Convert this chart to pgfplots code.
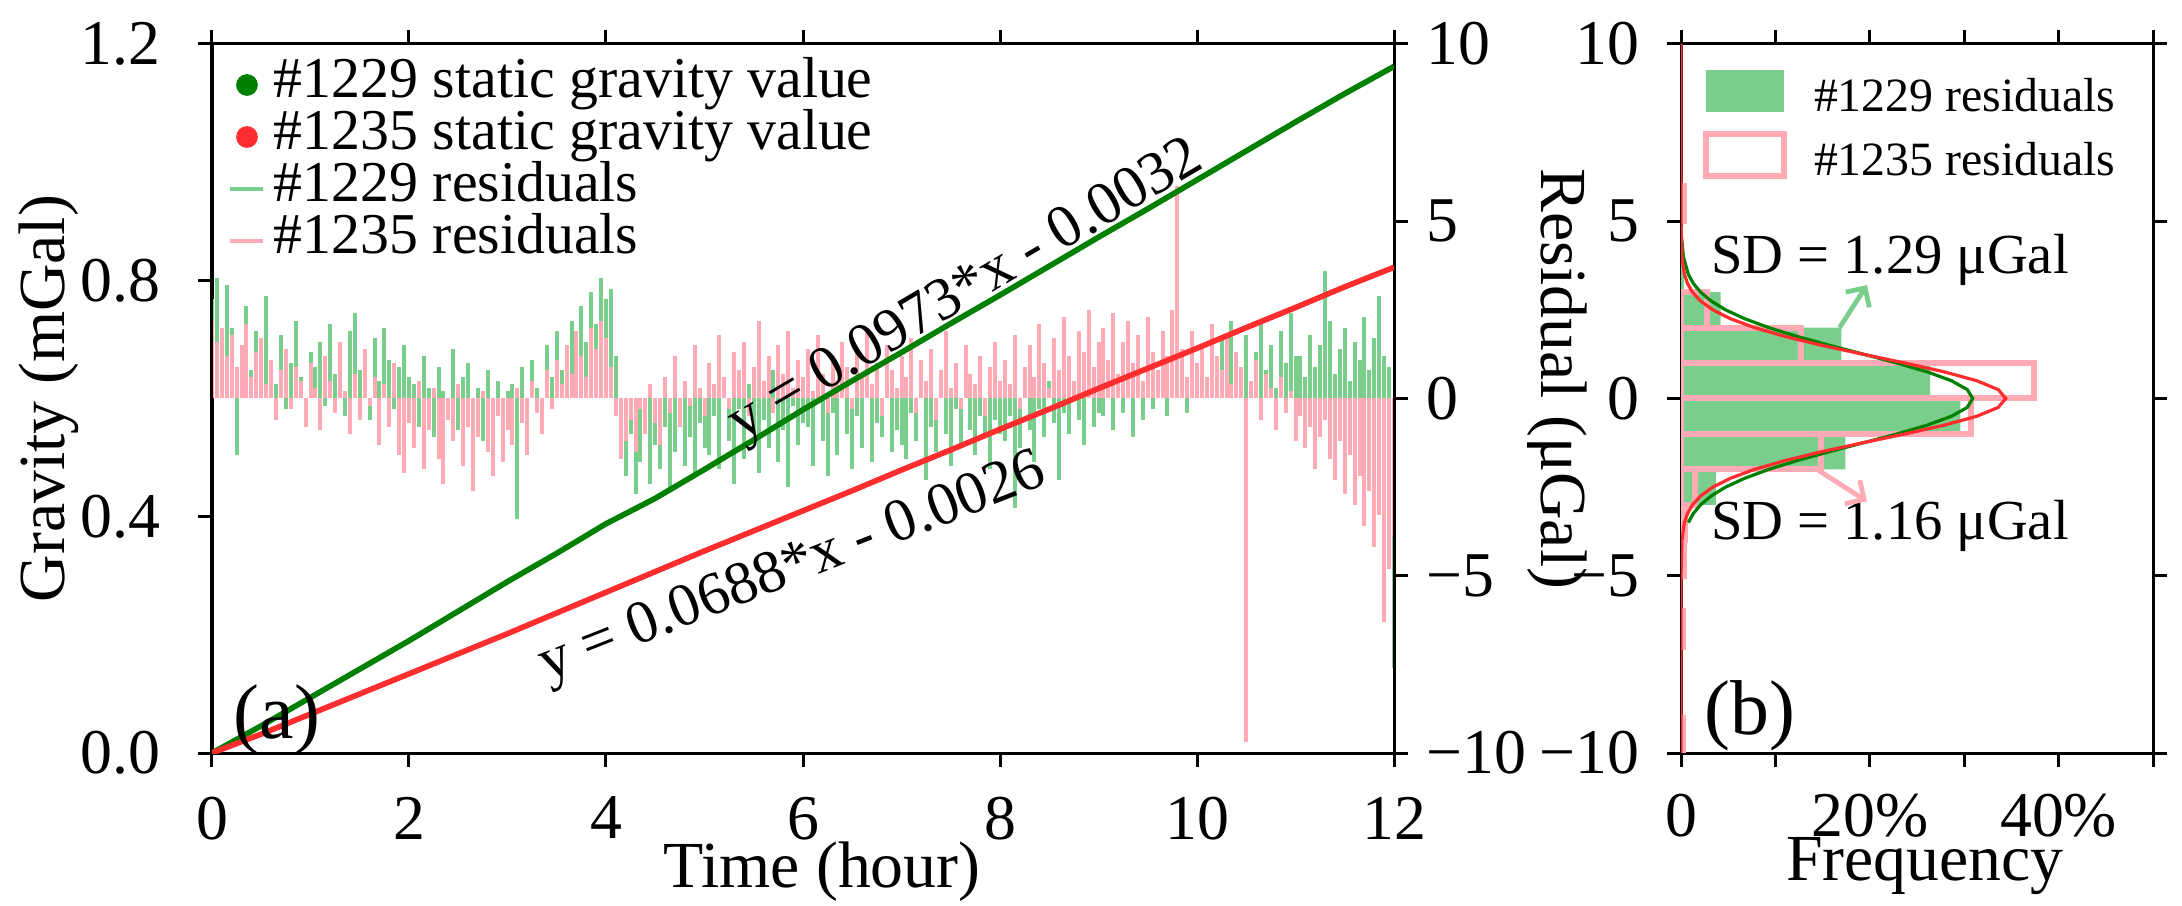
\documentclass[border=0pt]{standalone}
\usepackage{fontspec}
\setmainfont{Liberation Serif}
\usepackage{pgfplots}
\pgfplotsset{compat=1.18}
\usetikzlibrary{arrows.meta}
\definecolor{gline}{RGB}{0,128,0}
\definecolor{rline}{RGB}{255,45,45}
\definecolor{gres}{RGB}{122,206,140}
\definecolor{pres}{RGB}{255,170,180}
\pgfplotsset{
  common/.style={
    scale only axis,
    axis line style={line width=0.75bp},
    tick style={black, line width=0.75bp},
    major tick length=3.5bp,
    tick align=outside,
    tick label style={font=\fontsize{16}{19}\selectfont, inner sep=0pt},
    label style={font=\fontsize{16.5}{19}\selectfont},
  }
}
\begin{document}
\begin{tikzpicture}
\useasboundingbox (-53bp,-38.25bp) rectangle (492.5bp,188.25bp);
% ---------- residual axis (right) ----------
\begin{axis}[common, at={(0bp,0bp)}, anchor=south west,
  width=295.5bp, height=177.25bp,
  xmin=0, xmax=12, ymin=-10, ymax=10,
  xtick=\empty,
  ytick={-10,-5,0,5,10}, yticklabels={−10,−5,0,5,10},
  ytick pos=right, yticklabel pos=right,
  yticklabel style={xshift=4.5bp}]
\addplot[ycomb, gres, line width=1bp, no markers] table[row sep=\\, x expr=\coordindex*0.05, y index=0]{
2.8\\ 3.4\\ 1.5\\ 3.2\\ 2.0\\ -1.6\\ 1.2\\ 2.6\\ 0.8\\ 1.9\\ 0.5\\ 2.9\\ 1.1\\ 0.4\\ 1.8\\ -0.3\\ 1.0\\ 2.2\\ 0.6\\ -0.4\\ 1.3\\
0.9\\ 1.6\\ -0.2\\ 2.1\\ 0.7\\ 1.4\\ -0.5\\ 1.9\\ 2.4\\ 0.8\\ 1.2\\ -0.6\\ 1.7\\ 0.5\\ 2.0\\ 1.1\\ -0.3\\ 0.9\\ 1.5\\ 0.6\\
0.4\\ -0.8\\ 1.2\\ 0.3\\ -1.1\\ 0.9\\ 0.2\\ -0.5\\ 1.4\\ -0.9\\ 0.6\\ 1.0\\ -0.4\\ 0.3\\ -1.2\\ 0.8\\ -0.2\\ 0.5\\ -0.7\\ 0.2\\
0.4\\ -3.4\\ 0.9\\ -0.6\\ 1.1\\ 0.3\\ -0.8\\ 1.5\\ 0.6\\ 1.9\\ 0.8\\ 1.3\\ 2.2\\ 1.0\\ 2.6\\ 1.6\\ 3.0\\ 2.1\\ 3.4\\ 2.8\\
3.1\\ 1.2\\ -1.5\\ -2.2\\ -1.0\\ -2.7\\ -1.8\\ -0.6\\ -2.4\\ -1.3\\ -2.0\\ -0.8\\ -2.6\\ -1.5\\ -0.4\\ -1.9\\ -1.1\\ -2.2\\ -0.7\\ -1.4\\
-1.6\\ -0.5\\ -2.0\\ 0.6\\ -1.2\\ -2.4\\ -0.3\\ -1.7\\ 0.4\\ -1.0\\ -2.1\\ -0.6\\ -1.4\\ 0.8\\ -1.8\\ -0.9\\ -2.5\\ -0.2\\ -1.3\\ -0.7\\
-0.8\\ -1.9\\ 0.5\\ -1.2\\ -2.2\\ -0.4\\ -1.6\\ 0.7\\ -1.0\\ -2.0\\ -0.5\\ -1.4\\ 0.3\\ -1.8\\ -0.7\\ -1.1\\ 0.6\\ -1.5\\ -0.9\\ -1.3\\
-1.7\\ -0.4\\ -1.2\\ 0.5\\ -2.3\\ -0.8\\ -1.5\\ 0.4\\ -1.0\\ -1.9\\ -0.3\\ -1.3\\ 0.6\\ -0.9\\ -1.6\\ -0.5\\ -1.1\\ -2.0\\ -0.6\\ -1.0\\
-1.2\\ -0.5\\ -3.1\\ -1.4\\ 0.4\\ -0.9\\ -1.8\\ -0.3\\ -1.1\\ 0.5\\ -0.7\\ -2.3\\ -0.4\\ -1.0\\ 0.3\\ -0.6\\ -1.3\\ 0.2\\ -0.8\\ -0.4\\
-0.5\\ 0.6\\ -0.9\\ 0.3\\ -0.4\\ 0.8\\ -1.1\\ 0.4\\ -0.6\\ 1.0\\ -0.3\\ 0.5\\ 1.6\\ -0.5\\ 0.7\\ 0.2\\ 1.3\\ -0.4\\ 0.9\\ 0.5\\
1.4\\ 0.6\\ 2.0\\ 0.9\\ 1.7\\ 0.4\\ 2.2\\ 1.1\\ 0.7\\ 1.8\\ 0.5\\ 1.3\\ 2.1\\ 0.8\\ 1.5\\ 0.3\\ 1.9\\ 1.0\\ 2.4\\ 1.2\\
1.2\\ 0.6\\ 1.8\\ 0.9\\ 1.5\\ 3.6\\ 2.2\\ 0.7\\ 1.4\\ 2.0\\ 0.5\\ 1.6\\ 1.1\\ 2.3\\ 0.8\\ 1.7\\ 2.9\\ 1.2\\ 0.9\\ -7.6\\
};
\addplot[ycomb, pres, line width=1bp, no markers] table[row sep=\\, x expr=\coordindex*0.05, y index=0]{
2.2\\ 1.6\\ 2.0\\ 1.2\\ 1.8\\ 0.9\\ 1.5\\ 2.1\\ 0.6\\ 1.3\\ 1.7\\ 0.4\\ 1.1\\ -0.6\\ 0.8\\ 1.4\\ -0.3\\ 0.9\\ 0.5\\ -0.8\\ 1.0\\
0.3\\ -0.9\\ 1.2\\ 0.5\\ -0.4\\ 1.6\\ 0.2\\ -1.0\\ 0.7\\ -0.6\\ 1.4\\ -0.2\\ 0.6\\ -1.3\\ 0.4\\ -0.8\\ 1.0\\ -1.6\\ -2.1\\ -0.7\\
-1.4\\ 0.5\\ -2.0\\ -0.9\\ 0.3\\ -1.7\\ -2.4\\ -0.6\\ -1.2\\ 0.4\\ -1.9\\ -0.8\\ -2.6\\ -1.1\\ 0.2\\ -1.5\\ -2.2\\ -0.5\\ -1.8\\ -0.9\\
-1.3\\ 0.3\\ -0.7\\ -1.6\\ 0.5\\ -0.4\\ -1.0\\ 0.8\\ -0.3\\ 1.1\\ 0.4\\ 1.5\\ 0.7\\ 1.9\\ 1.2\\ 0.6\\ 2.0\\ 1.4\\ 2.2\\ 1.7\\
0.9\\ -0.5\\ -1.7\\ -1.2\\ -0.6\\ -1.5\\ -0.3\\ -1.0\\ 0.4\\ -0.7\\ -1.3\\ 0.6\\ -0.4\\ 1.2\\ -0.8\\ 0.5\\ -0.2\\ 1.5\\ 0.3\\ -0.5\\
1.0\\ 0.4\\ 1.8\\ 0.6\\ -0.3\\ 1.3\\ 0.8\\ 1.6\\ -0.5\\ 0.9\\ 2.2\\ 0.5\\ 1.2\\ -0.4\\ 1.5\\ 0.7\\ 1.9\\ 0.3\\ 1.1\\ 0.6\\
1.4\\ 0.2\\ 1.8\\ 0.7\\ -0.4\\ 1.2\\ 0.5\\ 1.6\\ 0.9\\ -0.3\\ 1.3\\ 0.6\\ 2.0\\ 0.4\\ 1.0\\ -0.5\\ 1.5\\ 0.8\\ 0.3\\ 1.2\\
0.6\\ 1.7\\ -0.4\\ 1.1\\ 0.5\\ 1.4\\ -0.6\\ 0.8\\ 1.9\\ 0.3\\ 1.0\\ -0.3\\ 1.5\\ 0.7\\ 0.4\\ 1.2\\ -0.5\\ 0.9\\ 1.6\\ 0.5\\
1.1\\ 0.4\\ 1.8\\ -0.3\\ 0.9\\ 1.5\\ 0.6\\ 2.1\\ 1.0\\ 0.3\\ 1.7\\ 0.8\\ 2.3\\ 1.2\\ 0.5\\ 1.9\\ 1.3\\ 2.5\\ 0.9\\ 1.6\\
2.0\\ 1.1\\ 2.4\\ 0.7\\ 1.6\\ 2.2\\ 1.0\\ 1.8\\ 0.5\\ 2.3\\ 1.3\\ 0.8\\ 1.9\\ 1.2\\ 2.5\\ 6.0\\ 1.4\\ 0.6\\ 1.9\\ 1.0\\
1.5\\ 0.6\\ 2.1\\ 1.2\\ 0.8\\ 1.7\\ 0.4\\ 1.3\\ 0.9\\ -9.7\\ 0.5\\ 1.1\\ -0.6\\ 0.7\\ 0.3\\ -0.9\\ 0.6\\ -0.4\\ 0.2\\ -1.2\\
-0.5\\ -1.4\\ -0.8\\ -2.0\\ -1.1\\ -0.6\\ -1.7\\ -2.3\\ -1.2\\ -2.7\\ -1.6\\ -3.0\\ -2.2\\ -3.6\\ -2.6\\ -4.2\\ -3.3\\ -6.3\\ -4.8\\ -3.9\\
};
\end{axis}
% ---------- gravity axis (left) ----------
\begin{axis}[common, at={(0bp,0bp)}, anchor=south west,
  width=295.5bp, height=177.25bp,
  xmin=0, xmax=12, ymin=0, ymax=1.2,
  xtick={0,2,4,6,8,10,12}, xticklabels={0,2,4,6,8,10,12},
  ytick={0,0.4,0.8,1.2}, yticklabels={0.0,0.4,0.8,1.2},
  xtick pos=both, ytick pos=left,
  xticklabel style={yshift=-7.25bp},
  yticklabel style={xshift=-9.25bp},
  xlabel={Time (hour)}, ylabel={Gravity (mGal)},
  xlabel style={at={(rel axis cs:0.516,-0.167)}, anchor=center},
  ylabel style={at={(rel axis cs:-0.138,0.5)}, anchor=center},
  legend cell align=left,
  legend style={draw=none, fill=none, at={(rel axis cs:0,1)}, anchor=north west,
    xshift=4bp, yshift=-3.75bp, inner sep=0pt, outer sep=0pt,
    row sep=0pt, column sep=0pt,
    font=\fontsize{14.5}{15}\selectfont,
    nodes={inner sep=0pt, text height=9.75bp, text depth=3.25bp}},
]
\addplot[gline, line width=1.4bp, no markers,
  legend image code/.code={\path[draw=none,fill=none] (0bp,0bp) rectangle (11bp,0bp); \fill[gline] (4.25bp,0bp) circle (2bp);}]
  coordinates {(0,0) (0.5,0.046) (1,0.094) (1.5,0.142) (2,0.19) (2.5,0.240) (3,0.290) (3.5,0.338) (4,0.388) (4.5,0.431) (5,0.480) (5.5,0.530) (6,0.581) (6.5,0.630) (7,0.678) (7.5,0.727) (8,0.775) (8.5,0.824) (9,0.873) (9.5,0.921) (10,0.970) (10.5,1.019) (11,1.068) (11.5,1.116) (12,1.162)};
\addlegendentry{\#1229 static gravity value}
\addplot[rline, line width=1.4bp, no markers,
  legend image code/.code={\path[draw=none,fill=none] (0bp,0bp) rectangle (11bp,0bp); \fill[rline] (4.25bp,0bp) circle (2bp);}]
  coordinates {(0,0) (0.5,0.032) (1,0.066) (1.5,0.100) (2,0.134) (2.5,0.168) (3,0.202) (3.5,0.237) (4,0.272) (4.5,0.307) (5,0.342) (5.5,0.376) (6,0.410) (6.5,0.444) (7,0.479) (7.5,0.513) (8,0.548) (8.5,0.582) (9,0.617) (9.5,0.651) (10,0.685) (10.5,0.720) (11,0.754) (11.5,0.789) (12,0.822)};
\addlegendentry{\#1235 static gravity value}
\addlegendimage{legend image code/.code={\path[draw=none,fill=none] (0bp,0bp) rectangle (11bp,0bp); \draw[gres, line width=1bp] (0bp,0bp) -- (8.25bp,0bp);}}
\addlegendentry{\#1229 residuals}
\addlegendimage{legend image code/.code={\path[draw=none,fill=none] (0bp,0bp) rectangle (11bp,0bp); \draw[pres, line width=1bp] (0bp,0bp) -- (8.25bp,0bp);}}
\addlegendentry{\#1235 residuals}
\node[rotate=30.6, font=\fontsize{15.2}{18}\selectfont] at (axis cs:7.66,0.78) {y = 0.0973*x - 0.0032};
\node[rotate=21.5, font=\fontsize{15.2}{18}\selectfont] at (axis cs:5.9,0.31) {y = 0.0688*x - 0.0026};
\node[font=\fontsize{19.5}{22}\selectfont, inner sep=0pt] at (axis cs:0.66,0.056) {(a)};
\end{axis}
\node[rotate=-90, font=\fontsize{16.5}{19}\selectfont] at (336.25bp,93.5bp) {Residual (μGal)};
% ---------- histogram panel ----------
\begin{axis}[common, at={(367.25bp,0bp)}, anchor=south west,
  width=118bp, height=177.25bp,
  xmin=0, xmax=0.5, ymin=-10, ymax=10,
  xtick={0,0.1,0.2,0.3,0.4,0.5}, xticklabels={0,,20\%,,40\%,},
  ytick={-10,-5,0,5,10}, yticklabels={−10,−5,0,5,10},
  xtick pos=both, ytick pos=both,
  xticklabel style={yshift=-6.5bp},
  yticklabel style={xshift=-6.75bp},
  xlabel={Frequency},
  xlabel style={at={(rel axis cs:0.517,-0.16)}, anchor=center},
  legend cell align=left,
  legend style={draw=none, fill=none, at={(rel axis cs:0,1)}, anchor=north west,
    xshift=5.5bp, yshift=-6.5bp, inner sep=0pt, outer sep=0pt,
    row sep=4.75bp, column sep=0pt,
    font=\fontsize{12}{14}\selectfont,
    nodes={inner sep=0pt, text height=10.5bp, text depth=0bp}},
]
\addplot[xbar interval, fill=gres, draw=none,
  legend image code/.code={\path[draw=none,fill=none] (0bp,-5.25bp) rectangle (27bp,5.25bp); \fill[gres] (0bp,-5.25bp) rectangle (19.5bp,5.25bp);}]
  coordinates {(0.004,-4) (0.037,-3) (0.174,-2) (0.296,-1) (0.264,0) (0.170,1) (0.042,2) (0.003,3) (0.003,4)};
\addlegendentry{\#1229 residuals}
\addplot[xbar interval, fill=none, draw=pres, line width=1.5bp,
  legend image code/.code={\path[draw=none,fill=none] (0bp,-5.25bp) rectangle (27bp,5.25bp); \draw[pres, line width=1.5bp] (0bp,-5.25bp) rectangle (19.5bp,5.25bp);}]
  coordinates {(0.003,-5) (0.004,-4) (0.015,-3) (0.148,-2) (0.307,-1) (0.374,0) (0.127,1) (0.027,2) (0.027,3)};
\addlegendentry{\#1235 residuals}
\addplot[xbar interval, fill=none, draw=pres, line width=1.5bp, forget plot]
  coordinates {(0.003,5) (0.003,6)};
\addplot[xbar interval, fill=none, draw=pres, line width=1.5bp, forget plot]
  coordinates {(0.002,-7) (0.002,-6)};
\addplot[xbar interval, fill=none, draw=pres, line width=1.5bp, forget plot]
  coordinates {(0.002,-10) (0.002,-9)};
\addplot[gline, line width=0.8bp, no markers, forget plot] coordinates {
(0.0078,-3.5) (0.0129,-3.25) (0.0207,-3) (0.0319,-2.75) (0.0472,-2.5) (0.0675,-2.25) (0.0929,-2) (0.1231,-1.75) (0.1572,-1.5) (0.1932,-1.25) (0.2288,-1) (0.2610,-0.75) (0.2866,-0.5) (0.3033,-0.25) (0.309,0) (0.3033,0.25) (0.2866,0.5) (0.2610,0.75) (0.2288,1) (0.1932,1.25) (0.1572,1.5) (0.1231,1.75) (0.0929,2) (0.0675,2.25) (0.0472,2.5) (0.0319,2.75) (0.0207,3) (0.0129,3.25) (0.0078,3.5) (0.0025,4) (0.0008,4.5)};
\addplot[rline, line width=0.8bp, no markers, forget plot] coordinates {
(0,-10) (0.00003,-5) (0.0009,-4) (0.0036,-3.5) (0.0068,-3.25) (0.0121,-3) (0.0207,-2.75) (0.0337,-2.5) (0.0524,-2.25) (0.0778,-2) (0.1103,-1.75) (0.1491,-1.5) (0.1925,-1.25) (0.2373,-1) (0.2791,-0.75) (0.3135,-0.5) (0.3361,-0.25) (0.344,0) (0.3361,0.25) (0.3135,0.5) (0.2791,0.75) (0.2373,1) (0.1925,1.25) (0.1491,1.5) (0.1103,1.75) (0.0778,2) (0.0524,2.25) (0.0337,2.5) (0.0207,2.75) (0.0121,3) (0.0068,3.25) (0.0036,3.5) (0.0009,4) (0.00003,5) (0,10)};
\node[anchor=west, inner sep=0pt, font=\fontsize{14.2}{16}\selectfont] at (axis cs:0.031,3.9) {SD = 1.29 μGal};
\node[anchor=west, inner sep=0pt, font=\fontsize{14.2}{16}\selectfont] at (axis cs:0.031,-3.6) {SD = 1.16 μGal};
\draw[gres, line width=1.2bp, -{Straight Barb[length=3.5bp,width=7bp]}] (axis cs:0.168,2.0) -- (axis cs:0.197,3.2);
\draw[pres, line width=1.2bp, -{Straight Barb[length=3.5bp,width=7bp]}] (axis cs:0.144,-2.0) -- (axis cs:0.197,-2.9);
\node[font=\fontsize{19.5}{22}\selectfont, inner sep=0pt] at (axis cs:0.073,-8.95) {(b)};
\end{axis}
\end{tikzpicture}
\end{document}
